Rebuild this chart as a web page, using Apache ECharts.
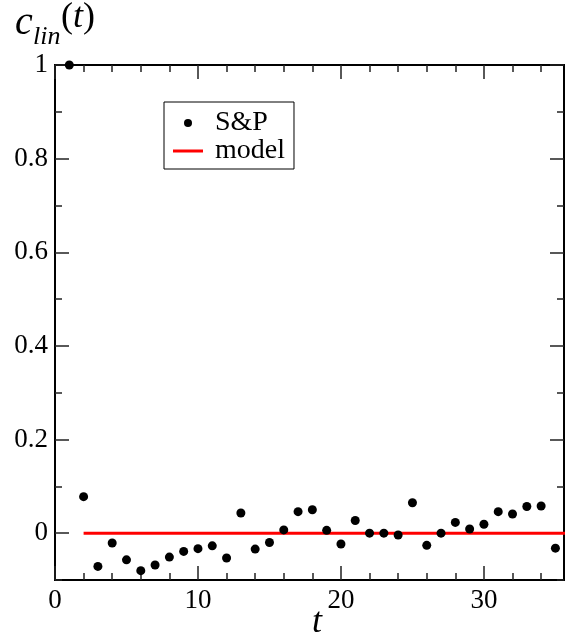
<!DOCTYPE html>
<html>
<head>
<meta charset="utf-8">
<script src="https://cdn.jsdelivr.net/npm/echarts@6/dist/echarts.min.js"></script>
<style>
  html, body { margin: 0; padding: 0; background: #fff; }
  #main { width: 565px; height: 641px; }
</style>
</head>
<body>
<div id="main"></div>
<script>
// data
var tVals = [1, 2, 3, 4, 5, 6, 7, 8, 9, 10, 11, 12, 13, 14, 15, 16, 17, 18,
             19, 20, 21, 22, 23, 24, 25, 26, 27, 28, 29, 30, 31, 32, 33, 34, 35];
var cVals = [1.0, 0.078, -0.071, -0.021, -0.057, -0.080, -0.068, -0.051, -0.039, -0.033,
             -0.027, -0.053, 0.043, -0.034, -0.020, 0.007, 0.046, 0.050, 0.006, -0.023,
             0.027, 0.000, 0.000, -0.004, 0.065, -0.026, 0.000, 0.023, 0.009, 0.019,
             0.046, 0.041, 0.057, 0.058, -0.032];
var modelT = [2, 36];
var modelY = [0, 0];

var xMajor = [0, 10, 20, 30];
var xMinor = [2, 4, 6, 8, 12, 14, 16, 18, 22, 24, 26, 28, 32, 34];
var yMajor = [0, 0.2, 0.4, 0.6, 0.8, 1];
var yMinor = [-0.1, 0.1, 0.3, 0.5, 0.7, 0.9];

var FONT = 'Liberation Serif';

var myChart = echarts.init(document.getElementById('main'));

function xAx(pos, ticks, len, labels) {
    return {
        type: 'value', position: pos, min: 0, max: 35.6,
        axisLine: { show: true, onZero: false, lineStyle: { color: '#000', width: 2 } },
        axisTick: { show: true, inside: true, length: len, customValues: ticks,
                    lineStyle: { color: '#222', width: 1.5 } },
        axisLabel: labels ? { show: true, customValues: ticks, margin: 7,
                              fontFamily: FONT, fontSize: 27, color: '#000' } : { show: false },
        splitLine: { show: false }
    };
}
function yAx(pos, ticks, len, labels) {
    return {
        type: 'value', position: pos, min: -0.1, max: 1,
        axisLine: { show: true, onZero: false, lineStyle: { color: '#000', width: 2 } },
        axisTick: { show: true, inside: true, length: len, customValues: ticks,
                    lineStyle: { color: '#222', width: 1.5 } },
        axisLabel: labels ? { show: true, customValues: ticks, margin: 7,
                              fontFamily: FONT, fontSize: 27, color: '#000',
                              formatter: function (v) { return String(Math.round(v * 10) / 10); } }
                          : { show: false },
        splitLine: { show: false }
    };
}

var scatterData = tVals.map(function (t, i) { return [t, cVals[i]]; });
var modelData = modelT.map(function (t, i) { return [t, modelY[i]]; });

option = {
    backgroundColor: '#fff',
    animation: false,
    grid: { left: 55, right: 1, top: 65, bottom: 61 },
    xAxis: [
        xAx('bottom', xMajor, 14, true),
        xAx('bottom', xMinor, 7, false),
        xAx('top', xMajor, 14, false),
        xAx('top', xMinor, 7, false)
    ],
    yAxis: [
        yAx('left', yMajor, 14, true),
        yAx('left', yMinor, 7, false),
        yAx('right', yMajor, 14, false),
        yAx('right', yMinor, 7, false)
    ],
    legend: {
        left: 164, top: 102,
        orient: 'vertical',
        padding: [7, 9, 4, 9],
        itemGap: 0,
        itemWidth: 30,
        itemHeight: 8,
        borderColor: '#000',
        borderWidth: 1,
        borderRadius: 0,
        selectedMode: false,
        textStyle: { fontFamily: FONT, fontSize: 28, color: '#000', padding: [0, 0, 0, 7] },
        data: [
            { name: 'S&P', icon: 'circle', itemStyle: { color: '#000', opacity: 1 } },
            { name: 'model', icon: 'path://M0,0L30,0L30,3L0,3Z', itemStyle: { color: '#ff0000' } }
        ]
    },
    graphic: [
        { type: 'text', left: 15, top: 3,
          style: { text: 'c', font: 'italic 40px "Liberation Serif"', fill: '#000' } },
        { type: 'text', left: 33, top: 24,
          style: { text: 'lin', font: 'italic 26px "Liberation Serif"', fill: '#000' } },
        { type: 'text', left: 61, top: 0,
          style: {
              text: '{p|(}{i|t}{p|)}',
              rich: {
                  p: { fontFamily: FONT, fontSize: 36, fill: '#000' },
                  i: { fontFamily: FONT, fontSize: 36, fontStyle: 'italic', fill: '#000' }
              }
          } },
        { type: 'text', left: 312, top: 605,
          style: { text: 't', font: 'italic 36px "Liberation Serif"', fill: '#000' } }
    ],
    series: [
        {
            name: 'model',
            type: 'line',
            xAxisIndex: 0, yAxisIndex: 0,
            data: modelData,
            symbol: 'none',
            color: '#ff0000',
            lineStyle: { color: '#ff0000', width: 3 },
            z: 2
        },
        {
            name: 'S&P',
            type: 'scatter',
            xAxisIndex: 0, yAxisIndex: 0,
            data: scatterData,
            symbol: 'circle',
            symbolSize: 9,
            clip: false,
            itemStyle: { color: '#000', opacity: 1 },
            z: 3
        }
    ]
};
myChart.setOption(option);
</script>
</body>
</html>
